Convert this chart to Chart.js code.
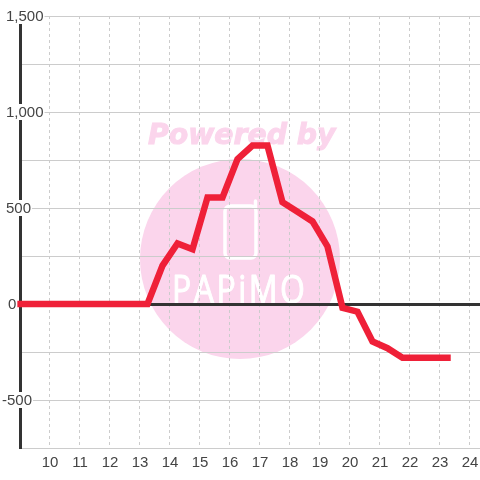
<!DOCTYPE html>
<html>
<head>
<meta charset="utf-8">
<style>
    html, body { margin: 0; padding: 0; background: #fff; }
    canvas { display: block; }
</style>
<script src="https://cdn.jsdelivr.net/npm/chart.js@4/dist/chart.umd.min.js"></script>
</head>
<body>
<canvas id="chart" width="480" height="480"></canvas>
<script>
const hours = [9, 9.25, 9.75, 10.25, 10.75, 11.25, 11.75, 12.25, 12.75, 13.25, 13.75, 14.25, 14.75, 15.25, 15.75,
    16.25, 16.75, 17.25, 17.75, 18.25, 18.75, 19.25, 19.75, 20.25, 20.75, 21.25, 21.75, 22.25, 22.75, 23.25];
const values = [0, 0, 0, 0, 0, 0, 0, 0, 0, 0, 200, 315, 285, 555, 555,
    755, 825, 825, 530, 480, 430, 300, -20, -40, -195, -230, -280, -280, -280, -280];
const xTicks = [10, 11, 12, 13, 14, 15, 16, 17, 18, 19, 20, 21, 22, 23, 24];
const yTicks = [-500, 0, 500, 1000, 1500];

// 标签的左边位置,参考图里并不统一
const labelLeft = { '-500': 2, '0': 8 };

// 背景水印
const watermark = {
    id: 'watermark',
    beforeDraw(chart) {
        const ctx = chart.ctx;
        ctx.save();
        ctx.fillStyle = '#fff';
        ctx.fillRect(0, 0, 480, 480);

        ctx.fillStyle = '#fbd5ec';
        ctx.strokeStyle = '#fbd5ec';
        ctx.beginPath();
        ctx.arc(240, 259, 100, 0, Math.PI * 2);
        ctx.fill();

        ctx.font = 'italic bold 28.3px "DejaVu Sans"';
        ctx.textAlign = 'left';
        ctx.textBaseline = 'alphabetic';
        ctx.lineWidth = 1;
        ctx.fillText('Powered by', 148, 144);
        ctx.strokeText('Powered by', 148, 144);

        ctx.strokeStyle = '#fff';
        ctx.lineWidth = 3.5;
        ctx.lineJoin = 'round';
        ctx.lineCap = 'round';
        ctx.beginPath();
        ctx.roundRect(225, 206, 31, 52, 5);
        ctx.moveTo(255.5, 208);
        ctx.lineTo(255.5, 201);
        ctx.stroke();

        // 字母压窄拉高,接近原来的方形字体
        ctx.fillStyle = '#fff';
        ctx.lineWidth = 0.8;
        ctx.font = '32px "Open Sans"';
        ctx.letterSpacing = '2.5px';
        ctx.translate(172, 303);
        ctx.scale(1, 1.2);
        ctx.fillText('PAPiMO', 0, 0);
        ctx.strokeText('PAPiMO', 0, 0);
        ctx.restore();
    }
};

// y 轴标签带白色底
const yLabels = {
    id: 'yLabels',
    afterDraw(chart) {
        const ctx = chart.ctx;
        const scale = chart.scales.y;
        ctx.save();
        ctx.font = '15px "Liberation Sans"';
        ctx.textAlign = 'left';
        ctx.textBaseline = 'middle';
        yTicks.forEach(v => {
            const text = v.toLocaleString('en-US');
            const left = labelLeft[v] !== undefined ? labelLeft[v] : 6;
            const y = scale.getPixelForValue(v);
            const w = ctx.measureText(text).width;
            ctx.fillStyle = '#fff';
            ctx.fillRect(left - 1, y - 8, w + 2, 16);
            ctx.fillStyle = '#444';
            ctx.fillText(text, left, y + 0.5);
        });
        ctx.restore();
    }
};

new Chart(document.getElementById('chart').getContext('2d'), {
    type: 'line',
    data: {
        datasets: [{
            data: hours.map((h, i) => ({ x: h, y: values[i] })),
            borderColor: '#ef2038',
            borderWidth: 6.5,
            borderCapStyle: 'square',
            borderJoinStyle: 'miter',
            pointRadius: 0,
            tension: 0,
            clip: false
        }]
    },
    options: {
        responsive: false,
        animation: false,
        layout: { padding: { top: 16, left: 0, right: 0, bottom: 0 } },
        plugins: { legend: { display: false }, tooltip: { enabled: false } },
        scales: {
            x: {
                type: 'linear',
                min: 9,
                max: 24.334,
                afterBuildTicks: scale => { scale.ticks = xTicks.map(v => ({ value: v })); },
                afterFit: scale => {
                    scale.height = 32;
                    scale.paddingLeft = 0;
                    scale.paddingRight = 0;
                },
                grid: { color: '#ccc', lineWidth: 1, drawTicks: false },
                border: { display: false, dash: [3, 3] },
                ticks: {
                    autoSkip: false,
                    maxRotation: 0,
                    padding: 6,
                    color: '#444',
                    font: { family: '"Liberation Sans"', size: 15 },
                    callback: v => String(v)
                }
            },
            y: {
                min: -750,
                max: 1500,
                afterBuildTicks: scale => {
                    scale.ticks = [-750, -500, -250, 0, 250, 500, 750, 1000, 1250, 1500].map(v => ({ value: v }));
                },
                afterFit: scale => { scale.width = 20; },
                grid: {
                    drawTicks: false,
                    color: c => c.tick && c.tick.value === 0 ? '#333' : '#ccc',
                    lineWidth: c => c.tick && c.tick.value === 0 ? 3 : 1
                },
                border: { display: true, color: '#333', width: 3 },
                ticks: { display: false }
            }
        }
    },
    plugins: [watermark, yLabels]
});
</script>
</body>
</html>
